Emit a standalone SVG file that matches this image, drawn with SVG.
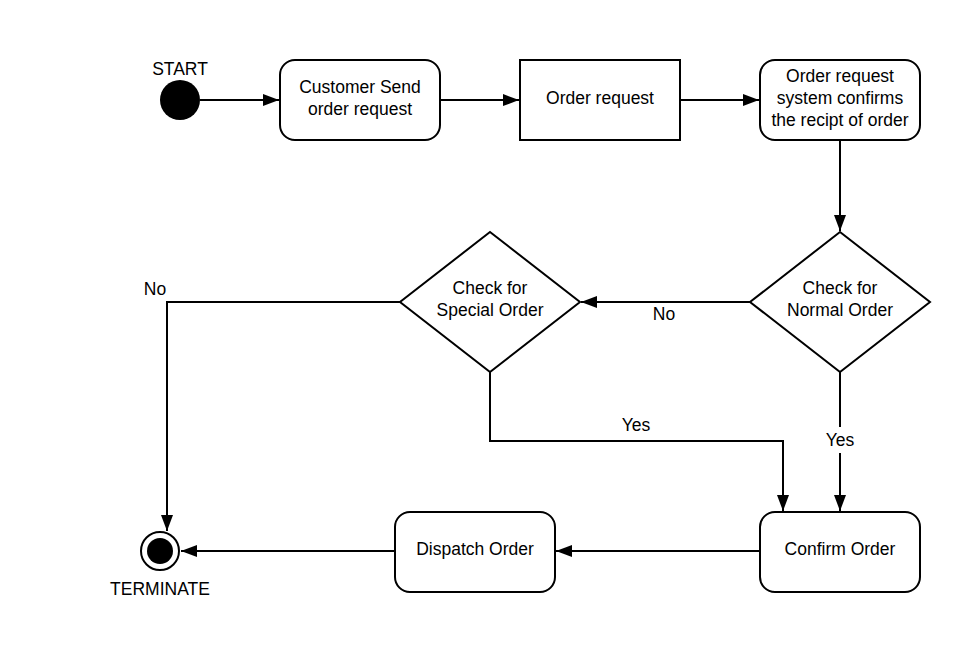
<svg xmlns="http://www.w3.org/2000/svg" width="970" height="660" viewBox="0 0 970 660">
  <style>
    .node { fill: #ffffff; stroke: #000000; stroke-width: 2; }
    .txt { font-family: "Liberation Sans", Arial, sans-serif; font-size: 17.5px; fill: #000000; text-anchor: middle; }
    .edge { fill: none; stroke: #000000; stroke-width: 2; marker-end: url(#arrow); }
  </style>
  <defs>
    <marker id="arrow" viewBox="0 0 16 12" refX="16" refY="6" markerWidth="16" markerHeight="12" markerUnits="userSpaceOnUse" orient="auto">
      <path d="M0,0 L16,6 L0,12 Z" fill="#000000"/>
    </marker>
  </defs>
  <rect width="970" height="660" fill="#ffffff"/>

  <g id="connectors">
    <path class="edge" d="M200,100 H279"/>
    <path class="edge" d="M440,100 H519"/>
    <path class="edge" d="M680,100 H759"/>
    <path class="edge" d="M840,140 V231"/>
    <path class="edge" d="M750,302 H581"/>
    <path class="edge" d="M840,372 V511"/>
    <path class="edge" d="M490,372 V441 H783 V511"/>
    <path class="edge" d="M400,302 H167 V531"/>
    <path class="edge" d="M760,551 H556"/>
    <path class="edge" d="M395,551 H181"/>
    <rect x="820" y="427" width="40" height="26" fill="#ffffff"/>
    <text class="txt" x="840" y="446">Yes</text>
    <text class="txt" x="664" y="320">No</text>
    <text class="txt" x="636" y="431">Yes</text>
    <text class="txt" x="155" y="295">No</text>
  </g>

  <g id="start">
    <circle cx="180" cy="100" r="20" fill="#000000"/>
    <text class="txt" x="180" y="75">START</text>
  </g>

  <g id="customer-send">
    <rect class="node" x="280" y="60" width="160" height="80" rx="15"/>
    <text class="txt" x="360" y="93">Customer Send</text>
    <text class="txt" x="360" y="115">order request</text>
  </g>

  <g id="order-request">
    <rect class="node" x="520" y="60" width="160" height="80"/>
    <text class="txt" x="600" y="104">Order request</text>
  </g>

  <g id="system-confirms">
    <rect class="node" x="760" y="60" width="160" height="80" rx="15"/>
    <text class="txt" x="840" y="82">Order request</text>
    <text class="txt" x="840" y="104">system confirms</text>
    <text class="txt" x="840" y="126">the recipt of order</text>
  </g>

  <g id="check-normal">
    <path class="node" d="M840,232 L930,302 L840,372 L750,302 Z"/>
    <text class="txt" x="840" y="294">Check for</text>
    <text class="txt" x="840" y="316">Normal Order</text>
  </g>

  <g id="check-special">
    <path class="node" d="M490,232 L580,302 L490,372 L400,302 Z"/>
    <text class="txt" x="490" y="294">Check for</text>
    <text class="txt" x="490" y="316">Special Order</text>
  </g>

  <g id="confirm-order">
    <rect class="node" x="760" y="512" width="160" height="80" rx="15"/>
    <text class="txt" x="840" y="555">Confirm Order</text>
  </g>

  <g id="dispatch-order">
    <rect class="node" x="395" y="512" width="160" height="80" rx="15"/>
    <text class="txt" x="475" y="555">Dispatch Order</text>
  </g>

  <g id="terminate">
    <circle cx="160" cy="551" r="19" fill="#ffffff" stroke="#000000" stroke-width="2"/>
    <circle cx="160" cy="551" r="13" fill="#000000"/>
    <text class="txt" x="160" y="595">TERMINATE</text>
  </g>
</svg>
